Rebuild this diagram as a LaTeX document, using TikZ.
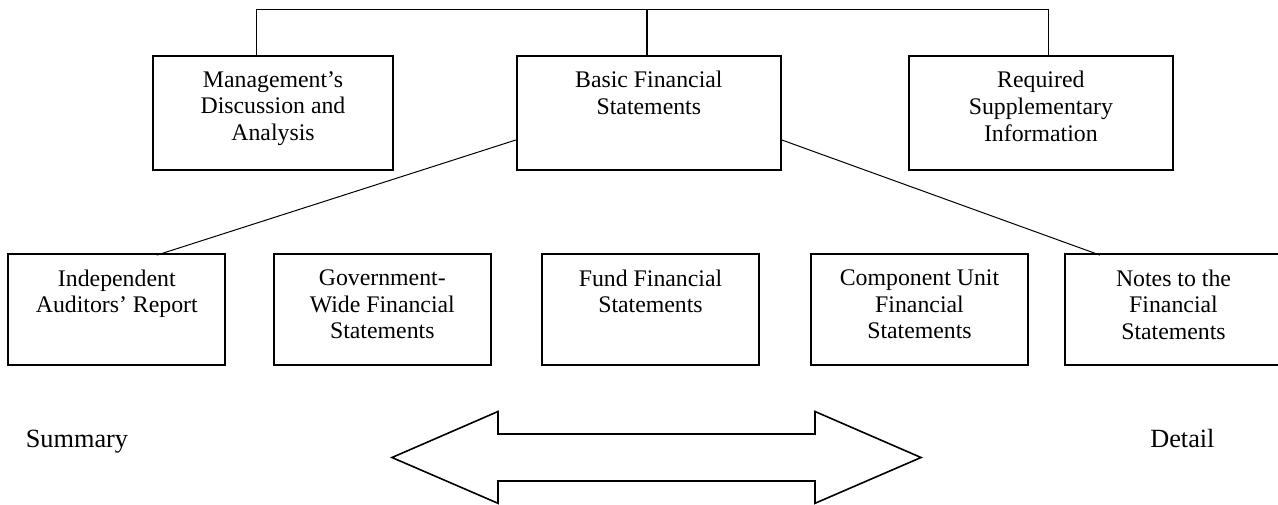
\documentclass[tikz,border=0pt]{standalone}
\usepackage{fontspec}
\setmainfont{Liberation Serif}
\begin{document}
\begin{tikzpicture}[x=1pt,y=-1pt,
  box/.style={draw, line width=1.8pt, inner sep=0pt},
  topbox/.style={box, minimum height=114pt},
  botbox/.style={box, minimum width=217pt, minimum height=111pt},
  txt/.style={anchor=north, align=center, inner sep=0pt, font=\fontsize{23.8}{26.7}\selectfont},
  lbl/.style={anchor=base, inner sep=0pt, font=\fontsize{26.3}{30}\selectfont},
  conn/.style={line width=1.5pt},
  diag/.style={line width=1pt},
  bigarrow/.style={line width=1.6pt, line join=miter}]
\useasboundingbox (0,0) rectangle (1278,504);
\fill[white] (0,0) rectangle (1278,504);

% top row
\node[topbox, minimum width=240.6pt] (mda) at (273,113) {};
\node[txt] (mdaT) at ([yshift=-16pt]mda.north) {Management’s\\Discussion and\\Analysis};
\node[topbox, minimum width=264.3pt] (bfs) at (648.85,113) {};
\node[txt] (bfsT) at ([yshift=-16pt]bfs.north) {Basic Financial\\Statements};
\node[topbox, minimum width=264.3pt] (rsi) at (1040.85,113) {};
\node[txt] (rsiT) at ([yshift=-16pt]rsi.north) {Required\\Supplementary\\Information};

% bottom row
\node[botbox] (iar) at (116.8,309.5) {};
\node[txt] (iarT) at ([yshift=-16.4pt]iar.north) {Independent\\Auditors’ Report};
\node[botbox] (gw) at (382.3,309.5) {};
\node[txt] (gwT) at ([yshift=-16.4pt]gw.north) {Government-\\Wide Financial\\Statements};
\node[botbox] (ffs) at (650.5,309.5) {};
\node[txt] (ffsT) at ([yshift=-16.4pt]ffs.north) {Fund Financial\\Statements};
\node[botbox] (cu) at (919.5,309.5) {};
\node[txt] (cuT) at ([yshift=-16.4pt]cu.north) {Component Unit\\Financial\\Statements};
\node[botbox] (nfs) at (1173.5,309.5) {};
\node[txt] (nfsT) at ([yshift=-16.4pt]nfs.north) {Notes to the\\Financial\\Statements};

% top connector
\coordinate (tl) at (256.7,9.3);
\coordinate (tm) at (647,9.3);
\coordinate (tr) at (1048.7,9.3);
\draw[conn] (tl |- mda.north) -- (tl) -- (tr) -- (tr |- rsi.north);
\draw[conn] (tm) -- (tm |- bfs.north);

% diagonals
\draw[diag] ([yshift=-27pt]bfs.west) -- ([xshift=40pt,yshift=-2pt]iar.north);
\draw[diag] ([yshift=-27pt]bfs.east) -- ([xshift=-73.5pt,yshift=-2pt]nfs.north);

% double arrow
\draw[bigarrow] (392,457.5) -- (498,411.5) -- (498,434) -- (815,434) -- (815,411.5)
  -- (921,457.5) -- (815,503.3) -- (815,481) -- (498,481) -- (498,503.3) -- cycle;

% labels
\node[lbl] (sum) at (77,447.5) {Summary};
\node[lbl] (det) at (1182.4,447) {Detail};
\end{tikzpicture}
\end{document}
